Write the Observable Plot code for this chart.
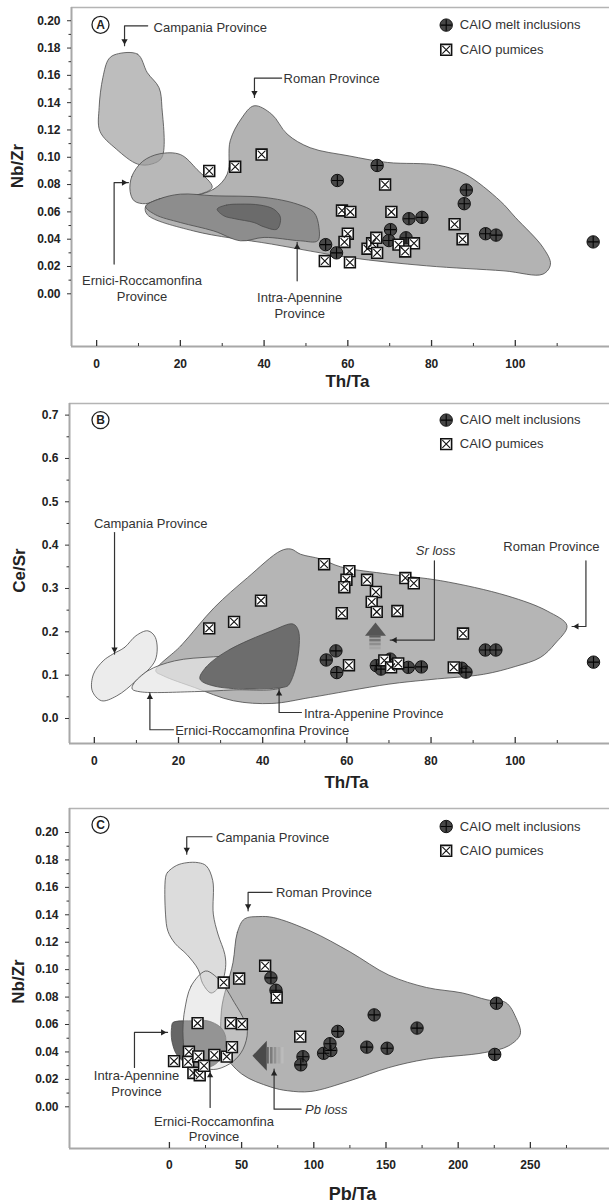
<!DOCTYPE html>
<html><head><meta charset="utf-8">
<script src="https://cdn.jsdelivr.net/npm/d3@7"></script>
<script src="https://cdn.jsdelivr.net/npm/@observablehq/plot@0.6"></script>
<style>
body{margin:0;background:#fff;}
#chart svg{display:block;}
</style></head><body><div id="chart"></div>
<script>
// ---------- tick values ----------
const xTicksTh = [0, 20, 40, 60, 80, 100];
const xMinorTh = [10, 30, 50, 70, 90, 110];
const xTicksPb = [0, 50, 100, 150, 200, 250];
const xMinorPb = [25, 75, 125, 175, 225, 275];
const yTicksNbZr = [0, 0.02, 0.04, 0.06, 0.08, 0.10, 0.12, 0.14, 0.16, 0.18, 0.20];
const yMinorNbZr = [0.01, 0.03, 0.05, 0.07, 0.09, 0.11, 0.13, 0.15, 0.17, 0.19];
const yTicksCeSr = [0, 0.1, 0.2, 0.3, 0.4, 0.5, 0.6, 0.7];
const yMinorCeSr = [0.05, 0.15, 0.25, 0.35, 0.45, 0.55, 0.65];

// ---------- Panel A: Th/Ta vs Nb/Zr ----------
const A_meltTh = [57.5, 67.0, 88.3, 87.8, 74.6, 77.7, 92.9, 95.4, 118.6, 54.7, 57.3, 70.2, 69.8, 73.9];
const A_meltNb = [0.083, 0.094, 0.076, 0.066, 0.055, 0.056, 0.044, 0.043, 0.038, 0.036, 0.030, 0.047, 0.039, 0.041];
const A_pumTh = [26.9, 33.1, 39.4, 68.9, 58.6, 60.6, 70.4, 85.5, 87.4, 60.0, 59.2, 54.5, 60.5, 64.7, 65.8, 66.8, 67.0, 72.1, 75.8, 73.7];
const A_pumNb = [0.090, 0.093, 0.102, 0.080, 0.061, 0.060, 0.060, 0.051, 0.040, 0.044, 0.038, 0.024, 0.023, 0.033, 0.037, 0.041, 0.030, 0.036, 0.037, 0.031];

const A_campania = [[4.7,0.1755],[9.8,0.1755],[12.1,0.162],[14.9,0.151],[15.6,0.1365],[15.6,0.10],[13.1,0.095],[9.8,0.095],[4.7,0.106],[0.8,0.119],[0.6,0.1365],[1.5,0.1585],[2.9,0.172]];
const A_roman = [[21.4,0.0705],[28,0.0767],[31.2,0.0877],[31.9,0.112],[34.5,0.128],[37.6,0.1377],[41.8,0.1316],[45.5,0.117],[51,0.107],[60.3,0.101],[69.5,0.0962],[81.6,0.0942],[88,0.0877],[96.4,0.068],[100,0.056],[106.6,0.034],[108.4,0.0217],[106.6,0.0144],[97.3,0.0168],[78.8,0.0205],[60.3,0.0266],[41.8,0.0364],[23.2,0.046],[12.1,0.058],[11.7,0.064],[14,0.068]];
const A_ernici = [[8,0.075],[8.4,0.086],[11,0.097],[15,0.1025],[20,0.102],[24,0.091],[27.6,0.078],[24,0.0725],[20,0.072],[15,0.0695],[11.7,0.066],[9,0.068]];
const A_intra = [[11.7,0.064],[15,0.0695],[20,0.073],[28,0.0718],[40,0.0706],[47.9,0.0657],[51.9,0.0596],[53.1,0.0486],[52.8,0.0388],[48.7,0.0388],[40,0.0413],[34.4,0.0388],[28,0.046],[20,0.0522],[14,0.058]];
const A_core = [[28.8,0.062],[31,0.065],[34.4,0.0657],[39,0.065],[42.3,0.062],[43.9,0.056],[43.1,0.0474],[40,0.049],[37.6,0.0522],[33,0.055],[30.4,0.0571]];

const A_arrows = [
  [[12.2,0.1963],[6.67,0.1963],[6.67,0.1817]],
  [[44.2,0.158],[37.7,0.158],[37.7,0.1438]],
  [[4.18,0.0218],[4.18,0.0815],[7.6,0.0815]],
  [[47.9,0.0095],[47.9,0.0376]]
];
const A_labelsStart = [[13.6,0.1956,"Campania Province"],[44.65,0.158,"Roman Province"]];
const A_labelsMiddle = [[10.85,0.0043,"Ernici-Roccamonfina\nProvince"],[48.5,-0.008,"Intra-Apennine\nProvince"]];

// ---------- Panel B: Th/Ta vs Ce/Sr ----------
const B_meltTh = [55.1, 57.4, 57.6, 67.0, 68.1, 70.3, 74.6, 77.7, 87.3, 88.3, 92.9, 95.4, 118.6];
const B_meltCe = [0.135, 0.156, 0.106, 0.122, 0.114, 0.137, 0.118, 0.119, 0.116, 0.107, 0.158, 0.158, 0.130];
const B_pumTh = [54.6, 60.6, 59.9, 59.4, 64.8, 66.9, 65.9, 67.1, 58.8, 72.0, 73.9, 75.9, 39.6, 33.2, 27.3, 87.6, 60.5, 68.9, 70.5, 72.2, 85.4];
const B_pumCe = [0.356, 0.340, 0.320, 0.303, 0.320, 0.292, 0.269, 0.246, 0.243, 0.248, 0.324, 0.312, 0.272, 0.223, 0.208, 0.196, 0.123, 0.134, 0.118, 0.127, 0.118];

const B_roman = [[14.6,0.11],[20.6,0.168],[28.5,0.256],[36.4,0.325],[44.3,0.387],[46.7,0.391],[49,0.379],[53.8,0.368],[58.5,0.35],[70,0.333],[82.3,0.318],[98.1,0.283],[107.6,0.248],[112.3,0.214],[109.4,0.172],[106,0.141],[100,0.12],[92.5,0.102],[80,0.09],[69.8,0.079],[51.4,0.0485],[42.2,0.0347],[33,0.041],[23.8,0.0716],[16.4,0.0985]];
const B_campania = [[4.4,0.1486],[7.2,0.164],[9.9,0.191],[12.7,0.2023],[14.5,0.187],[14.5,0.135],[9.9,0.087],[5.3,0.052],[1.7,0.041],[-0.5,0.064],[-0.2,0.1024],[2.1,0.133]];
const B_ernici = [[9,0.068],[9.3,0.08],[12.7,0.11],[19.1,0.133],[28.3,0.1423],[42.2,0.147],[45.4,0.141],[45.9,0.0947],[44.5,0.072],[33,0.066],[23.8,0.062],[10.9,0.0616]];
const B_intra = [[25.1,0.091],[26.5,0.118],[31.6,0.156],[42.2,0.2025],[47.2,0.218],[48.5,0.2025],[48.2,0.133],[46.3,0.079],[45.4,0.073],[29.3,0.073]];

const B_arrows = [
  [[4.8,0.429],[4.8,0.1486]],
  [[80.8,0.364],[80.8,0.181],[70.3,0.181]],
  [[116.8,0.364],[116.8,0.2123],[113.5,0.2123]],
  [[49.2,0.0138],[43.9,0.0138],[43.9,0.0678]],
  [[18.8,-0.026],[13.2,-0.026],[13.2,0.06]]
];
const B_labelsStart = [[-0.1,0.452,"Campania Province"],[49.8,0.0138,"Intra-Appenine Province"],[19.2,-0.026,"Ernici-Roccamonfina Province"]];
const B_labelsMiddle = [[108.6,0.3985,"Roman Province"]];
const B_labelsItalic = [[81.1,0.3886,"Sr loss"]];
const B_srHead = [[64.3,0.191],[69.3,0.191],[66.8,0.2215]];
const B_srBars = [[0.1855,0.191],[0.1765,0.183],[0.1675,0.174],[0.1585,0.165]];
const B_srX = [65.45, 68.15];

// ---------- Panel C: Pb/Ta vs Nb/Zr ----------
const C_meltPb = [70.3, 73.8, 92.5, 91.0, 106.8, 111.8, 111.2, 116.6, 136.7, 141.8, 150.8, 171.5, 226.5, 225.3];
const C_meltNb = [0.094, 0.085, 0.0365, 0.0306, 0.039, 0.041, 0.046, 0.055, 0.0435, 0.067, 0.0427, 0.0574, 0.0755, 0.0382];
const C_pumPb = [37.6, 48.3, 66.3, 74.3, 19.5, 42.5, 50.2, 90.6, 3.2, 13.5, 13.0, 20.0, 16.6, 21.0, 24.0, 31.1, 39.7, 43.3];
const C_pumNb = [0.0906, 0.0935, 0.1028, 0.0797, 0.061, 0.061, 0.0603, 0.0512, 0.0333, 0.0401, 0.0328, 0.0367, 0.0247, 0.023, 0.0299, 0.0378, 0.0366, 0.0435];

const C_roman = [[44,0.105],[47,0.127],[52,0.137],[62,0.1387],[72,0.138],[98,0.128],[125,0.113],[152,0.096],[178,0.087],[203,0.083],[220,0.078],[233,0.076],[240,0.065],[243,0.053],[235,0.0445],[218,0.0395],[178,0.0347],[152,0.0286],[125,0.019],[98,0.0112],[82,0.0117],[70,0.0145],[50,0.024],[38,0.04],[36,0.07]];
const C_campania = [[-2.7,0.167],[-1.4,0.1708],[5,0.176],[12.1,0.178],[20,0.178],[25.5,0.1757],[30,0.165],[30.4,0.1405],[33.6,0.126],[38.4,0.111],[38.9,0.1016],[36,0.09],[29,0.083],[23,0.09],[20,0.1],[12.1,0.111],[4,0.119],[-1,0.128],[-2.7,0.1405]];
const C_intra = [[1.5,0.0578],[2.5,0.0615],[14.8,0.0627],[26.4,0.0627],[35.6,0.0578],[39,0.0505],[37.9,0.0408],[33.3,0.0323],[26.4,0.0287],[14.8,0.03],[5.6,0.0372],[1.7,0.048]];
const C_ernici = [[10.5,0.07],[15,0.088],[25,0.099],[31,0.096],[38,0.088],[45,0.076],[51,0.065],[54,0.055],[51,0.042],[44,0.033],[33,0.0275],[24,0.028],[15,0.031],[11,0.038],[9.5,0.05],[9.5,0.06]];

const C_arrows = [
  [[29.5,0.1969],[12.0,0.1969],[12.0,0.1842]],
  [[71.1,0.1563],[54.5,0.1563],[54.5,0.1429]],
  [[-24.2,0.0287],[-24.2,0.0542],[-1.3,0.0542]],
  [[28.2,-0.0005],[28.2,0.0262]],
  [[91.2,-0.0017],[72.5,-0.0017],[72.5,0.0275]]
];
const C_labelsStart = [[32.2,0.1969,"Campania Province"],[73.8,0.1563,"Roman Province"]];
const C_labelsMiddle = [[-22.8,0.0172,"Intra-Apennine\nProvince"],[30.9,-0.0157,"Ernici-Roccamonfina\nProvince"]];
const C_labelsItalic = [[93.9,-0.0017,"Pb loss"]];
const C_pbHead = [[57.5,0.0372],[67.4,0.0481],[67.4,0.0263]];
const C_pbBars = [[67.4,69.2],[70.0,71.8],[72.6,74.4],[75.2,77.0],[77.8,79.4]];
const C_pbY = [0.0312, 0.0432];

// ---------- helpers ----------
const FONT = "'Liberation Sans', Arial, Helvetica, sans-serif";
const W = 609;
const pts = (xs, ys) => xs.map((x, i) => ({x, y: ys[i]}));

function poly(p, fill, extra = {}) {
  return Plot.line(p, {x: d => d[0], y: d => d[1], curve: "catmull-rom-closed", fill, stroke: "#4a4a4a", strokeWidth: 0.8, ...extra});
}
function meltMarks(data, extra) {
  return [
    Plot.dot(data, {...extra, r: 6.2, fill: "#474747", stroke: "#111", strokeWidth: 1}),
    Plot.dot(data, {...extra, symbol: "plus", r: 3.7, stroke: "#050505", strokeWidth: 1.1})
  ];
}
function pumiceMarks(data, extra) {
  return [
    Plot.dot(data, {...extra, symbol: "square", r: 6.1, fill: "#fff", stroke: "#111", strokeWidth: 1.6}),
    Plot.dot(data, {...extra, symbol: "times", r: 3.6, stroke: "#111", strokeWidth: 1.1})
  ];
}
function arrowMarks(lines) {
  const marks = lines.map(l => Plot.line(l, {x: d => d[0], y: d => d[1], stroke: "#333", strokeWidth: 1.2}));
  const tips = lines.map(l => {
    const a = l[l.length - 2], b = l[l.length - 1];
    const dir = a[0] === b[0] ? (b[1] > a[1] ? "up" : "down") : (b[0] > a[0] ? "right" : "left");
    return {x: b[0], y: b[1], dir};
  });
  const R = 3, off = 1.555 * R;
  const spec = {up: [0, 0, off], down: [180, 0, -off], right: [90, -off, 0], left: [-90, off, 0]};
  for (const [dir, [rot, dx, dy]] of Object.entries(spec)) {
    const t = tips.filter(d => d.dir === dir);
    if (t.length) marks.push(Plot.dot(t, {x: "x", y: "y", symbol: "triangle2", r: R, fill: "#222", stroke: "none", rotate: rot, dx, dy}));
  }
  return marks;
}
function textMarks(items, extra) {
  return Plot.text(items, {x: d => d[0], y: d => d[1], text: d => d[2], fontSize: 13, fill: "#333", lineHeight: 1.2, ...extra});
}

function panel(c) {
  const frameH = c.height - c.marginTop - c.marginBottom;
  const frameCx = (c.marginLeft + W) / 2;
  const [x0] = c.xDomain, [y0, y1] = c.yDomain;
  const lg = c.legend;
  return Plot.plot({
    width: W, height: c.height,
    marginLeft: c.marginLeft, marginRight: 0, marginTop: c.marginTop, marginBottom: c.marginBottom,
    x: {domain: c.xDomain}, y: {domain: c.yDomain},
    style: {fontFamily: FONT, background: "#fff", overflow: "visible", color: "#222"},
    marks: [
      ...c.shapes,
      ...c.extra,
      ...arrowMarks(c.arrows),
      ...c.texts,
      ...meltMarks(c.melt, {x: "x", y: "y"}),
      ...pumiceMarks(c.pum, {x: "x", y: "y"}),
      // frame
      Plot.ruleY([y1], {stroke: "#b4b4b4", strokeWidth: 1.5}),
      Plot.ruleY([y0], {stroke: "#a8a8a8", strokeWidth: 2}),
      Plot.ruleX([x0], {stroke: "#a8a8a8", strokeWidth: 2}),
      // x ticks (inside)
      Plot.ruleX(c.xMajor, {insetTop: frameH - 6, stroke: "#333", strokeWidth: 1.3}),
      Plot.ruleX(c.xMinor, {insetTop: frameH - 3, stroke: "#333", strokeWidth: 1}),
      Plot.axisX({ticks: c.xMajor, tickSize: 0, tickPadding: c.xPad, fontSize: 12, fontWeight: "bold", label: null, tickFormat: d => String(d)}),
      Plot.axisY({ticks: c.yMajor, tickSize: 4, tickPadding: 7, fontSize: 12, fontWeight: "bold", label: null, tickFormat: c.yFmt, stroke: "#333"}),
      Plot.axisY({ticks: c.yMinor, tickSize: 2.5, label: null, tickFormat: () => "", stroke: "#333"}),
      // axis titles
      Plot.text([c.xTitle], {frameAnchor: "bottom", text: d => d, dx: c.xTitlePos[0] - frameCx, dy: c.xTitlePos[1], fontSize: c.xTitleSize, fontWeight: "bold", textAnchor: "middle", lineAnchor: "middle", fill: "#222"}),
      Plot.text([c.yTitle], {frameAnchor: "left", text: d => d, rotate: -90, dx: c.yTitlePos[0] - c.marginLeft, dy: c.yTitlePos[1], fontSize: 17, fontWeight: "bold", textAnchor: "middle", lineAnchor: "middle", fill: "#222"}),
      // panel letter
      Plot.dot([c.letter], {frameAnchor: "top-left", dx: lg.letterX - c.marginLeft, dy: lg.letterDy, r: 8.5, fill: "#fff", stroke: "#222", strokeWidth: 1.3}),
      Plot.text([c.letter], {frameAnchor: "top-left", text: d => d, dx: lg.letterX - c.marginLeft, dy: lg.letterDy, fontSize: 12, fontWeight: "bold", textAnchor: "middle", lineAnchor: "middle", fill: "#222"}),
      // legend
      ...meltMarks([0], {frameAnchor: "top-left", dx: lg.markX - c.marginLeft, dy: lg.dy1}),
      ...pumiceMarks([0], {frameAnchor: "top-left", dx: lg.markX - c.marginLeft, dy: lg.dy2}),
      Plot.text(["CAIO melt inclusions"], {frameAnchor: "top-left", text: d => d, dx: lg.textX - c.marginLeft, dy: lg.dy1, textAnchor: "start", lineAnchor: "middle", fontSize: 13, fill: "#333"}),
      Plot.text(["CAIO pumices"], {frameAnchor: "top-left", text: d => d, dx: lg.textX - c.marginLeft, dy: lg.dy2, textAnchor: "start", lineAnchor: "middle", fontSize: 13, fill: "#333"})
    ]
  });
}

const fmt2 = d3.format(".2f"), fmt1 = d3.format(".1f");

const panelA = panel({
  height: 392, marginTop: 7, marginBottom: 46, marginLeft: 71,
  xDomain: [-6.0, 122.5], yDomain: [-0.0386, 0.2097],
  xMajor: xTicksTh, xMinor: xMinorTh, yMajor: yTicksNbZr, yMinor: yMinorNbZr, yFmt: fmt2, xPad: 13,
  xTitle: "Th/Ta", xTitleSize: 17, xTitlePos: [347, 35], yTitle: "Nb/Zr", yTitlePos: [17.5, -11],
  letter: "A", legend: {letterX: 100, letterDy: 17.3, markX: 445.7, textX: 459.3, dy1: 17.6, dy2: 42.3},
  shapes: [
    poly(A_campania, "#bdbdbd"),
    poly(A_roman, "#b3b3b3"),
    poly(A_ernici, "#9c9c9c", {fillOpacity: 0.72}),
    poly(A_intra, "#8d8d8d"),
    poly(A_core, "#6b6b6b")
  ],
  extra: [],
  arrows: A_arrows,
  texts: [textMarks(A_labelsStart, {textAnchor: "start"}), textMarks(A_labelsMiddle, {textAnchor: "middle"})],
  melt: pts(A_meltTh, A_meltNb), pum: pts(A_pumTh, A_pumNb)
});

const srShades = ["#5e5e5e", "#767676", "#8e8e8e", "#a6a6a6"];
const panelB = panel({
  height: 403, marginTop: 11, marginBottom: 52, marginLeft: 69,
  xDomain: [-5.9, 122.4], yDomain: [-0.0577, 0.7268],
  xMajor: xTicksTh, xMinor: xMinorTh, yMajor: yTicksCeSr, yMinor: yMinorCeSr, yFmt: fmt1, xPad: 13,
  xTitle: "Th/Ta", xTitleSize: 17, xTitlePos: [346, 39], yTitle: "Ce/Sr", yTitlePos: [19.5, -3],
  letter: "B", legend: {letterX: 100, letterDy: 16.6, markX: 445.7, textX: 459.3, dy1: 16.6, dy2: 40.6},
  shapes: [
    poly(B_roman, "#b5b5b5"),
    poly(B_campania, "#ececec"),
    poly(B_ernici, "#e6e6e6", {fillOpacity: 0.72}),
    poly(B_intra, "#6d6d6d")
  ],
  extra: [
    Plot.line(B_srHead, {x: d => d[0], y: d => d[1], curve: "linear-closed", fill: "#555", stroke: "none"}),
    ...B_srBars.map((b, i) => Plot.rect([b], {x1: () => B_srX[0], x2: () => B_srX[1], y1: d => d[0], y2: d => d[1], fill: srShades[i]}))
  ],
  arrows: B_arrows,
  texts: [
    textMarks(B_labelsStart, {textAnchor: "start"}),
    textMarks(B_labelsMiddle, {textAnchor: "middle"}),
    textMarks(B_labelsItalic, {textAnchor: "middle", fontStyle: "italic"})
  ],
  melt: pts(B_meltTh, B_meltCe), pum: pts(B_pumTh, B_pumCe)
});

const pbShades = ["#666", "#7c7c7c", "#929292", "#a8a8a8", "#bcbcbc"];
const panelC = panel({
  height: 407, marginTop: 13, marginBottom: 54, marginLeft: 69,
  xDomain: [-69.2, 304.8], yDomain: [-0.0304, 0.2175],
  xMajor: xTicksPb, xMinor: xMinorPb, yMajor: yTicksNbZr, yMinor: yMinorNbZr, yFmt: fmt2, xPad: 12,
  xTitle: "Pb/Ta", xTitleSize: 18, xTitlePos: [352, 45.5], yTitle: "Nb/Zr", yTitlePos: [18.4, 3],
  letter: "C", legend: {letterX: 100, letterDy: 16.3, markX: 445.7, textX: 459.3, dy1: 18, dy2: 42.3},
  shapes: [
    poly(C_roman, "#b3b3b3"),
    poly(C_campania, "#d9d9d9", {fillOpacity: 0.92}),
    poly(C_intra, "#666666"),
    poly(C_ernici, "#d4d4d4", {fillOpacity: 0.42})
  ],
  extra: [
    Plot.line(C_pbHead, {x: d => d[0], y: d => d[1], curve: "linear-closed", fill: "#4a4a4a", stroke: "none"}),
    ...C_pbBars.map((b, i) => Plot.rect([b], {x1: d => d[0], x2: d => d[1], y1: () => C_pbY[0], y2: () => C_pbY[1], fill: pbShades[i]}))
  ],
  arrows: C_arrows,
  texts: [
    textMarks(C_labelsStart, {textAnchor: "start"}),
    textMarks(C_labelsMiddle, {textAnchor: "middle"}),
    textMarks(C_labelsItalic, {textAnchor: "start", fontStyle: "italic"})
  ],
  melt: pts(C_meltPb, C_meltNb), pum: pts(C_pumPb, C_pumNb)
});

document.getElementById("chart").append(panelA, panelB, panelC);
</script></body></html>
